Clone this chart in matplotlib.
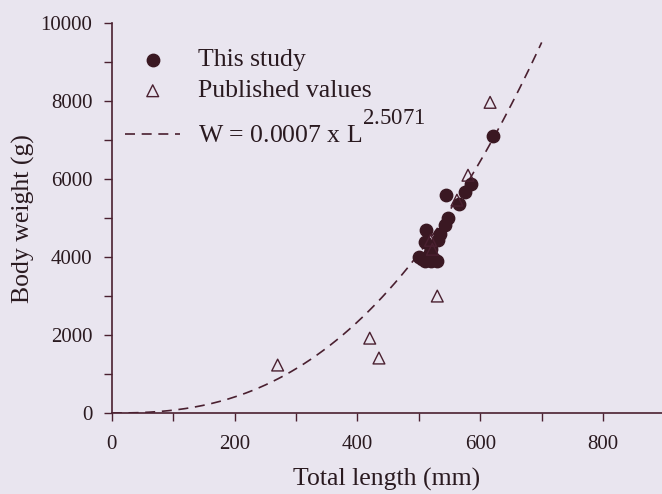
"""
Length-weight relationship plot.
"""
import matplotlib.pyplot as plt
import matplotlib._mathtext as mathtext_mod
import numpy as np

plt.rcParams['font.family'] = ['Liberation Serif', 'DejaVu Serif']
# the exponent in the original is almost full size and set high
mathtext_mod.SHRINK_FACTOR = 0.89
mathtext_mod.FontConstantsBase.sup1 = 1.2

study_length = [500, 505, 510, 515, 520, 525, 530, 518, 510, 511, 520,
                531, 534, 542, 548, 545, 565, 575, 585, 620]
study_weight = [4000, 3950, 3900, 4000, 3900, 3950, 3900, 4100, 4380, 4700,
                4200, 4430, 4600, 4820, 5000, 5600, 5360, 5670, 5880, 7100]

pub_length = [270, 420, 435, 530, 519, 522, 562, 580, 616]
pub_weight = [1230, 1920, 1410, 3000, 4430, 4200, 5460, 6100, 7970]

coef_a = 0.0007
coef_b = 2.5071

fg = '#4a2030'
txt = '#2a1a20'
bg = '#e9e5ef'

fig = plt.figure(figsize=(6.62, 4.94), dpi=100, facecolor=bg)
ax = fig.add_axes([0.169, 0.164, 0.831, 0.789], facecolor=bg)

curve_x = np.linspace(0, 700, 200)
curve_y = coef_a * curve_x ** coef_b
ax.plot(curve_x, curve_y, color=fg, linestyle=(0, (6, 4)), linewidth=1.2,
        label=r'W = %s x L$^{\mathregular{%s}}$' % (coef_a, coef_b))
ax.scatter(study_length, study_weight, s=80, color='#3a1822', zorder=3,
           label='This study')
ax.scatter(pub_length, pub_weight, s=72, marker='^', facecolor='none',
           edgecolor=fg, linewidth=1.0, zorder=4, label='Published values')

ax.set_xlim(0, 896)
ax.set_ylim(0, 10000)
ax.set_xticks([0, 200, 400, 600, 800])
ax.set_xticks(np.arange(100, 900, 200), minor=True)
ax.set_yticks(np.arange(0, 10001, 2000))
ax.set_yticks(np.arange(1000, 10000, 2000), minor=True)

for side in ['top', 'right']:
    ax.spines[side].set_visible(False)
for side in ['left', 'bottom']:
    ax.spines[side].set_color(fg)
    ax.spines[side].set_linewidth(1.2)

ax.tick_params(which='both', direction='out', color=fg, labelcolor=txt,
               labelsize=15, width=1.0)
ax.tick_params(which='major', length=6)
ax.tick_params(which='minor', length=6)
ax.tick_params(axis='x', which='major', pad=10)
ax.tick_params(axis='y', which='major', pad=8)

ax.set_xlabel('Total length (mm)', fontsize=18.5, color=txt, labelpad=10)
ax.set_ylabel('Body weight (g)', fontsize=18.5, color=txt, labelpad=4)

handles, labels = ax.get_legend_handles_labels()
order = [1, 2, 0]
ax.legend([handles[i] for i in order], [labels[i] for i in order],
          loc='upper left', bbox_to_anchor=(-0.018, 0.995), frameon=False,
          fontsize=18.5, labelcolor=txt, handlelength=2.15,
          labelspacing=0.32, handletextpad=0.7)

fig.savefig('out.png', dpi=100, facecolor=bg)
